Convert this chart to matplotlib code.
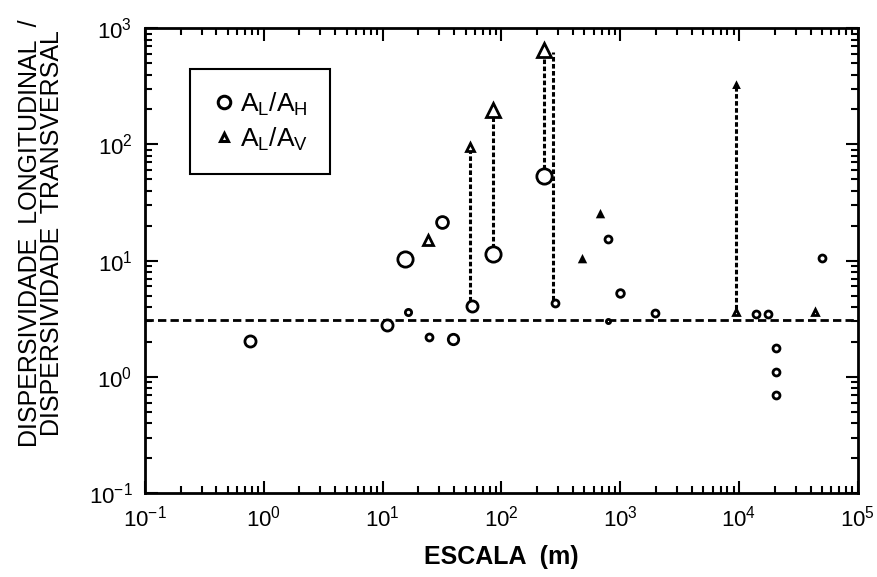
import matplotlib
matplotlib.use("Agg")
import matplotlib.pyplot as plt
from matplotlib.lines import Line2D

plt.rcParams['font.family'] = ['Liberation Sans', 'DejaVu Sans']

# A_L / A_H (circles): escala (m), razao, tamanho do marcador
circ_x = [0.77, 15.4, 31.6, 56.6, 85, 229, 285, 16.4, 10.9, 24.5, 39,
          789, 995, 1960, 790, 13800, 17500, 50000, 20400, 20400, 20400]
circ_y = [2.03, 10.3, 21.4, 4.06, 11.4, 54, 4.3, 3.6, 2.79, 2.2, 2.11,
          15.3, 5.25, 3.53, 3.05, 3.5, 3.5, 10.5, 1.77, 1.1, 0.70]
circ_s = [8, 11, 8.5, 8, 11, 11, 5, 4.5, 8, 5, 7.5,
          5, 5.5, 5, 3, 5, 5, 5, 5, 5, 5]

# A_L / A_V (triangles)
tri_x = [24, 54, 85, 229, 676, 476, 9500, 43600, 9500]
tri_y = [15, 95, 197, 650, 25, 10.3, 3.6, 3.6, 325]
tri_s = [6.5, 5.5, 10, 10, 3.5, 3.5, 5, 5, 3]

# linhas verticais tracejadas (x, y inferior, y superior)
vl_x = [54, 85, 229, 272, 9500]
vl_lo = [4.5, 12.8, 62, 4.6, 3.8]
vl_hi = [90, 185, 620, 620, 325]

ref_y = 3.1

fig = plt.figure(figsize=(8.78, 5.77), dpi=100)
ax = fig.add_axes([0.165, 0.1456, 0.812, 0.8054])
ax.set_xscale('log')
ax.set_yscale('log')
ax.set_xlim(0.1, 1e5)
ax.set_ylim(0.1, 1e3)

ax.axhline(ref_y, color='black', lw=2, ls=(0, (3, 1.5)), zorder=2)
ax.vlines(vl_x, vl_lo, vl_hi, colors='black', lw=2.2, linestyles=[(0, (1.5, 0.8))], zorder=2)

for x, y, s in zip(circ_x, circ_y, circ_s):
    ax.plot(x, y, 'o', ms=s, mfc='white', mec='black', mew=2, zorder=3)
for x, y, s in zip(tri_x, tri_y, tri_s):
    filled = s < 4
    ax.plot(x, y, '^', ms=s, mfc='black' if filled else 'white', mec='black', mew=2, zorder=3)

for sp in ax.spines.values():
    sp.set_linewidth(2)
ax.tick_params(which='both', direction='in', top=True, right=True, width=1.5, labelsize=16, pad=9)
ax.tick_params(which='major', length=9)
ax.tick_params(which='minor', length=5)

ax.set_xlabel('ESCALA  (m)', fontsize=18, fontweight='bold', labelpad=10)
ax.set_ylabel('DISPERSIVIDADE  LONGITUDINAL  /\nDISPERSIVIDADE  TRANSVERSAL',
              fontsize=18, linespacing=0.9)
ax.yaxis.set_label_coords(-0.113, 0.56)

handles = [Line2D([], [], marker='o', ls='none', ms=9, mfc='white', mec='black', mew=2.2),
           Line2D([], [], marker='^', ls='none', ms=6, mfc='white', mec='black', mew=2.2)]
leg = ax.legend(handles, [r'$\mathregular{A_L/A_H}$', r'$\mathregular{A_L/A_V}$'],
                loc='upper left', bbox_to_anchor=(0.045, 0.94), fontsize=19,
                handletextpad=0.1, handlelength=1.0, borderpad=0.8, labelspacing=0.3,
                fancybox=False, edgecolor='black', framealpha=1)
leg.get_frame().set_linewidth(1.5)

fig.savefig('out.png', dpi=100)
